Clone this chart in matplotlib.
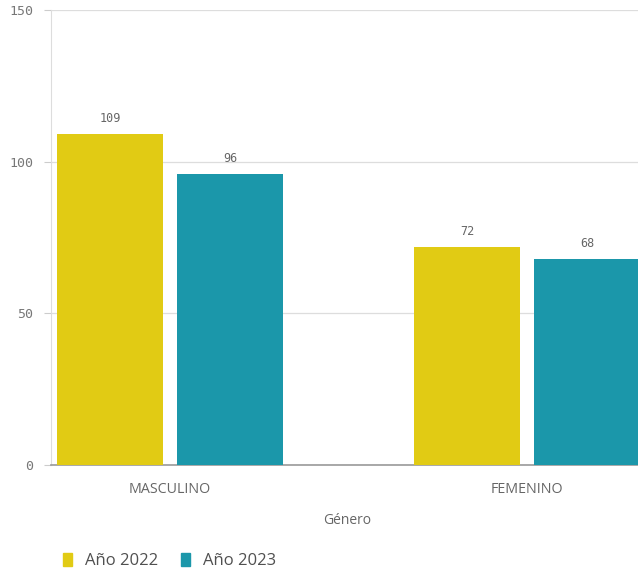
import matplotlib
matplotlib.use("Agg")
import matplotlib.pyplot as plt
from matplotlib.patches import Patch
import numpy as np

# Data
categories = ["MASCULINO", "FEMENINO"]
series_names = ["Año 2022", "Año 2023"]
values_2022 = [109, 72]
values_2023 = [96, 68]
y_ticks = [0, 50, 100, 150]

colors = ["#e1cb14", "#1b97aa"]

fig = plt.figure(figsize=(6.38, 5.77), dpi=100)
ax = fig.add_axes([51 / 638, 1 - 465 / 577, 1 - 51 / 638, 455 / 577])

x = np.arange(len(categories))
width = 0.297
offset = 0.168

bars1 = ax.bar(x - offset, values_2022, width, color=colors[0], zorder=3)
bars2 = ax.bar(x + offset, values_2023, width, color=colors[1], zorder=3)

mono = "DejaVu Sans Mono"
for bars, vals in ((bars1, values_2022), (bars2, values_2023)):
    for b, v in zip(bars, vals):
        ax.annotate(str(v), (b.get_x() + b.get_width() / 2, v),
                    xytext=(0, 6.5), textcoords="offset points",
                    ha="center", va="bottom", fontsize=8.5,
                    family=mono, color="#666666")

ax.set_xlim(-0.333, 1.311)
ax.set_ylim(0, 150)
ax.set_yticks(y_ticks)
ax.set_yticklabels([str(t) for t in y_ticks], family=mono, fontsize=9.5, color="#777777")
ax.set_xticks(x)
ax.set_xticklabels(categories, family="Open Sans", fontsize=10.3, color="#666666")
ax.tick_params(axis="x", length=0, pad=12)
ax.tick_params(axis="y", length=5, color="#cccccc", pad=8)

ax.yaxis.grid(True, color="#dddddd", linewidth=0.9, zorder=0)
for s in ("top", "right"):
    ax.spines[s].set_visible(False)
ax.spines["left"].set_color("#dddddd")
ax.spines["bottom"].set_color("#999999")
ax.spines["bottom"].set_linewidth(1.2)

ax.set_xlabel("Género", family="Open Sans", fontsize=10, color="#666666")
ax.xaxis.set_label_coords((347 - 51) / (638 - 51), -0.105)

handles = [Patch(color=c, label=n) for c, n in zip(colors, series_names)]
fig.legend(handles=handles, loc="center left", bbox_to_anchor=(0.075, 1 - 561 / 577),
           ncol=2, frameon=False, handlelength=0.55, handleheight=0.85,
           handletextpad=0.8, columnspacing=1.35,
           prop={"family": "Open Sans", "size": 12}, labelcolor="#505050")

fig.savefig("out.png", dpi=100)
